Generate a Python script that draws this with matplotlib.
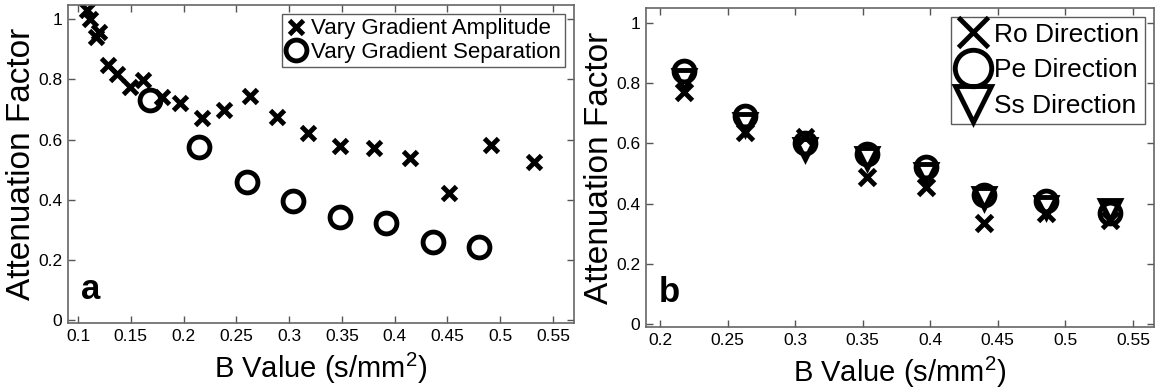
import matplotlib.pyplot as plt
from matplotlib.ticker import FormatStrFormatter

plt.rcParams['font.family'] = ['Liberation Sans', 'DejaVu Sans']
plt.rcParams['mathtext.default'] = 'regular'

# panel a: vary gradient amplitude (x) / separation (o)
amp_b = [0.1085, 0.111, 0.117, 0.120, 0.128, 0.137, 0.149, 0.162, 0.180, 0.197,
         0.217, 0.238, 0.263, 0.289, 0.318, 0.348, 0.380, 0.415, 0.452, 0.491, 0.532]
amp_att = [1.03, 1.00, 0.94, 0.957, 0.847, 0.817, 0.774, 0.797, 0.741, 0.72,
           0.67, 0.698, 0.744, 0.674, 0.621, 0.578, 0.571, 0.538, 0.422, 0.581, 0.525]
sep_b = [0.168, 0.2146, 0.260, 0.304, 0.348, 0.392, 0.436, 0.480]
sep_att = [0.731, 0.575, 0.459, 0.395, 0.342, 0.322, 0.259, 0.243]

# panel b: three gradient directions
dir_b = [0.218, 0.263, 0.307, 0.353, 0.397, 0.440, 0.486, 0.533]
ro_att = [0.77, 0.637, 0.62, 0.49, 0.455, 0.337, 0.37, 0.347]
pe_att = [0.84, 0.69, 0.60, 0.565, 0.523, 0.43, 0.41, 0.37]
ss_att = [0.81, 0.665, 0.58, 0.55, 0.50, 0.42, 0.39, 0.38]

xticks_a = [0.1, 0.15, 0.2, 0.25, 0.3, 0.35, 0.4, 0.45, 0.5, 0.55]
xticks_b = [0.2, 0.25, 0.3, 0.35, 0.4, 0.45, 0.5, 0.55]
yticks = [0, 0.2, 0.4, 0.6, 0.8, 1]

fig = plt.figure(figsize=(11.57, 3.92), dpi=100)
ax1 = fig.add_axes([0.0588, 0.176, 0.4373, 0.811])
ax2 = fig.add_axes([0.5583, 0.1658, 0.439, 0.8138])

ax1.plot(amp_b, amp_att, 'x', color='k', ms=10, mew=3.5, label='Vary Gradient Amplitude')
ax1.plot(sep_b, sep_att, 'o', color='k', mfc='none', ms=15, mew=3.5, label='Vary Gradient Separation')
ax1.set_xlim(0.0905, 0.57)
ax1.set_ylim(-0.01, 1.047)
ax1.set_xticks(xticks_a)

ax2.plot(dir_b, ro_att, 'x', color='k', ms=12, mew=3.5, label='Ro Direction')
ax2.plot(dir_b, pe_att, 'o', color='k', mfc='none', ms=15, mew=3.5, label='Pe Direction')
ax2.plot(dir_b, ss_att, 'v', color='k', mfc='none', ms=15, mew=3.5, label='Ss Direction')
ax2.set_xlim(0.1896, 0.5655)
ax2.set_ylim(-0.01, 1.05)
ax2.set_xticks(xticks_b)

for ax, tag in [(ax1, 'a'), (ax2, 'b')]:
    ax.set_yticks(yticks)
    ax.xaxis.set_major_formatter(FormatStrFormatter('%g'))
    ax.yaxis.set_major_formatter(FormatStrFormatter('%g'))
    ax.tick_params(direction='in', top=True, right=True, length=5, width=1,
                   color='#555555', labelsize=12.5, pad=4)
    for s in ax.spines.values():
        s.set_color('#666666')
        s.set_linewidth(1.2)
    ax.set_xlabel('B Value (s/mm$^{2}$)', fontsize=21, labelpad=5)
    ax.set_ylabel('Attenuation Factor', fontsize=24, labelpad=1)
    ax.text(0.025, 0.055, tag, transform=ax.transAxes, fontsize=25,
            fontweight='bold', va='bottom', ha='left')

leg1 = ax1.legend(loc='upper right', fontsize=16, frameon=True, fancybox=False,
                  edgecolor='#333333', handlelength=0.9, handletextpad=0.2,
                  borderaxespad=0.4, borderpad=0.2, labelspacing=0.1, markerscale=1.0)
leg1.get_frame().set_linewidth(1.0)
leg2 = ax2.legend(loc='upper right', fontsize=19, frameon=True, fancybox=False,
                  edgecolor='#333333', handlelength=1.3, handletextpad=0.15,
                  borderaxespad=0.35, borderpad=0.2, labelspacing=0.45, markerscale=1.75)
leg2.get_frame().set_linewidth(1.0)

fig.savefig('out.png', dpi=100)
